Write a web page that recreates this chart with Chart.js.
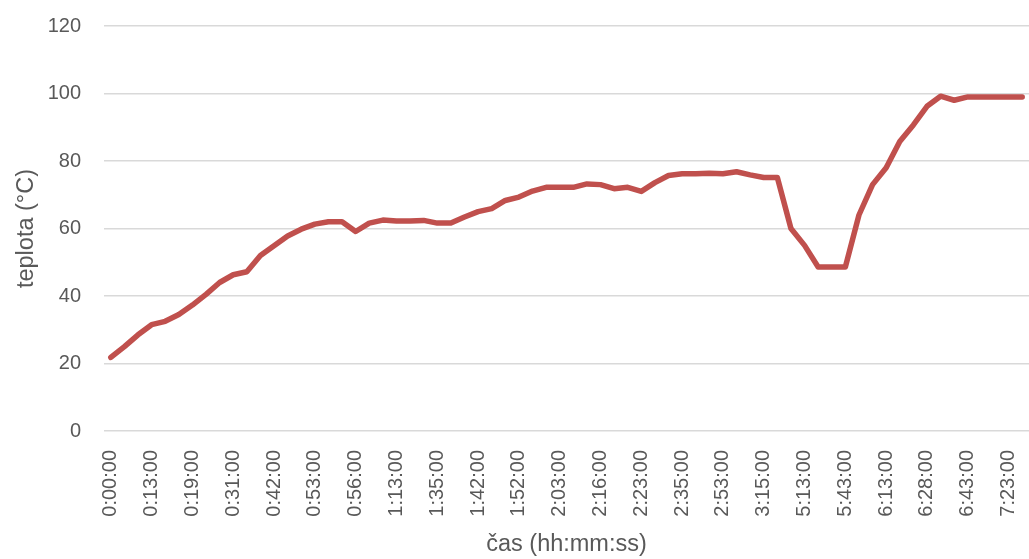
<!DOCTYPE html>
<html lang="cs">
  <head>
    <meta charset="UTF-8" />
    <title>Teplota</title>
    <style>
      html, body {
        margin: 0;
        padding: 0;
        background: #fff;
        overflow: hidden;
      }
      #chart {
        display: block;
      }
    </style>
  </head>
  <body>
    <canvas id="chart" width="1029" height="559"></canvas>

    <script src="https://cdn.jsdelivr.net/npm/chart.js@4/dist/chart.umd.min.js"></script>
    <script>
      // labels shown on the axis (every third measurement)
      const tickLabels = [
        "0:00:00", "0:13:00", "0:19:00", "0:31:00", "0:42:00", "0:53:00",
        "0:56:00", "1:13:00", "1:35:00", "1:42:00", "1:52:00", "2:03:00",
        "2:16:00", "2:23:00", "2:35:00", "2:53:00", "3:15:00", "5:13:00",
        "5:43:00", "6:13:00", "6:28:00", "6:43:00", "7:23:00"
      ];

      // temperature readings (°C)
      const teplota = [
        21.8, 25, 28.5, 31.5, 32.5, 34.5, 37.3, 40.5, 44, 46.3,
        47.2, 52, 54.9, 57.8, 59.8, 61.3, 62, 62, 59.1, 61.6,
        62.5, 62.2, 62.2, 62.4, 61.6, 61.6, 63.4, 65, 65.9, 68.3,
        69.3, 71.1, 72.2, 72.2, 72.2, 73.2, 73, 71.8, 72.2, 71,
        73.6, 75.7, 76.2, 76.2, 76.4, 76.2, 76.8, 75.9, 75.1, 75.1,
        60, 55, 48.6, 48.6, 48.6, 64, 73, 78, 85.8, 90.7,
        96.2, 99.2, 98, 99, 99, 99, 99, 99
      ];

      const yTicks = [0, 20, 40, 60, 80, 100, 120];

      // times between the shown labels are not readable -> empty
      const categories = teplota.map((v, i) =>
        i % 3 === 0 && tickLabels[i / 3] ? tickLabels[i / 3] : ""
      );

      const grey = "#595959";
      const tickFont = { family: "'Liberation Sans', Arial, sans-serif", size: 20 };
      const titleFont = { family: "'Liberation Sans', Arial, sans-serif", size: 23.5 };

      new Chart("chart", {
        type: "line",
        data: {
          labels: categories,
          datasets: [
            {
              label: "teplota",
              data: teplota,
              borderColor: "#c0504d",
              borderWidth: 5.5,
              pointRadius: 0,
              tension: 0,
              borderJoinStyle: "round",
              borderCapStyle: "round",
            },
          ],
        },
        options: {
          responsive: false,
          animation: false,
          layout: { padding: { top: 26, right: 0, bottom: 0, left: 0 } },
          plugins: {
            legend: { display: false },
            tooltip: { enabled: false },
          },
          scales: {
            x: {
              type: "category",
              offset: true,
              grid: { display: false },
              border: { display: false },
              ticks: {
                autoSkip: false,
                minRotation: 90,
                maxRotation: 90,
                padding: 11,
                color: grey,
                font: tickFont,
              },
              title: {
                display: true,
                text: "čas (hh:mm:ss)",
                color: grey,
                font: titleFont,
                padding: { top: 2, bottom: 0 },
              },
              afterFit(scale) {
                scale.height = 128;
                scale.paddingLeft = 0;
                scale.paddingRight = 0;
              },
            },
            y: {
              min: 0,
              max: 120,
              afterBuildTicks(scale) {
                scale.ticks = yTicks.map((v) => ({ value: v }));
              },
              grid: {
                color: "#d9d9d9",
                lineWidth: 1.5,
                drawTicks: false,
              },
              border: { display: false },
              ticks: {
                padding: 23,
                color: grey,
                font: tickFont,
              },
              title: {
                display: true,
                text: "teplota (°C)",
                color: grey,
                font: titleFont,
                padding: { top: 12, bottom: 0 },
              },
              afterFit(scale) {
                scale.width = 104;
                scale.paddingTop = 0;
                scale.paddingBottom = 0;
              },
            },
          },
        },
      });
    </script>
  </body>
</html>
